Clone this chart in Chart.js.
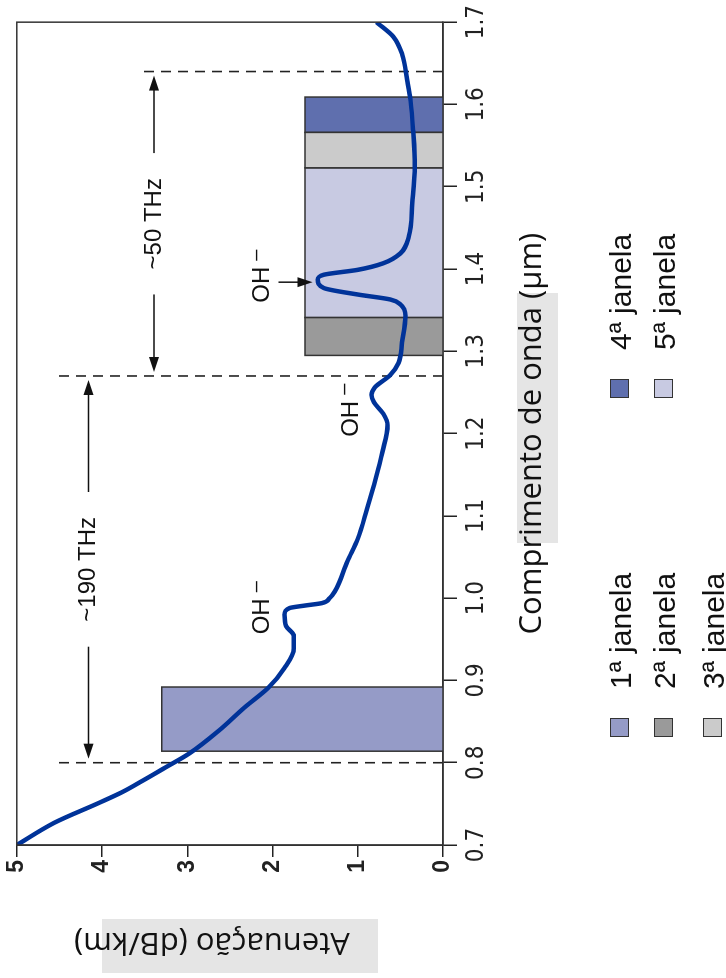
<!DOCTYPE html>
<html>
<head>
<meta charset="utf-8">
<script src="https://cdn.jsdelivr.net/npm/chart.js@4.4.0/dist/chart.umd.min.js"></script>
<style>
  html, body { margin: 0; padding: 0; background: #fff; overflow: hidden; }
  /* o gráfico é desenhado "deitado" e depois rodado 90° como na figura */
  #page { position: absolute; left: 0; top: 0; width: 978px; height: 726px;
          transform-origin: 0 0; transform: translate(0, 978px) rotate(-90deg); }
  #chart { position: absolute; left: 0; top: 0; }
  .leg-txt { position: absolute; font: 30px 'Liberation Sans', Arial, sans-serif; color: #111;
             white-space: nowrap; line-height: 30px; }
  .leg-sw { position: absolute; width: 17px; height: 17px; border: 1.5px solid #333; }
</style>
</head>
<body>
<div id="page">
  <canvas id="chart" width="978" height="726"></canvas>
  <div id="legend"></div>
</div>
<script>
// curva de atenuação da fibra
const wavelength = [0.700, 0.727, 0.751, 0.764, 0.779, 0.794, 0.811, 0.839, 0.867, 0.891,
  0.915, 0.939, 0.954, 0.966, 0.980, 0.988, 0.991, 0.994, 1.000, 1.008, 1.045, 1.072,
  1.109, 1.145, 1.178, 1.210, 1.224, 1.238, 1.247, 1.256, 1.271, 1.286, 1.311, 1.343,
  1.357, 1.363, 1.369, 1.377, 1.387, 1.393, 1.399, 1.407, 1.419, 1.440, 1.480, 1.525,
  1.568, 1.604, 1.629, 1.661, 1.682, 1.700];
const attenuation = [5.00, 4.56, 4.04, 3.77, 3.51, 3.26, 2.98, 2.63, 2.33, 2.05,
  1.86, 1.75, 1.75, 1.84, 1.86, 1.80, 1.62, 1.42, 1.33, 1.27, 1.12, 1.00,
  0.89, 0.79, 0.71, 0.65, 0.70, 0.81, 0.84, 0.80, 0.62, 0.52, 0.48, 0.44,
  0.50, 0.62, 1.00, 1.40, 1.47, 1.40, 1.00, 0.70, 0.50, 0.40, 0.36, 0.33,
  0.35, 0.38, 0.42, 0.48, 0.58, 0.78];

// janelas de transmissão
const windowNames = ['1ª janela', '2ª janela', '3ª janela', '4ª janela', '5ª janela'];
const windowStart = [0.814, 1.295, 1.523, 1.566, 1.341];
const windowEnd = [0.892, 1.341, 1.566, 1.609, 1.523];
const windowHeight = [3.30, 1.62, 1.62, 1.62, 1.62];
const windowColors = ['#959bc7', '#9a9a9a', '#cbcbcb', '#5f6fae', '#c8cae2'];

// linhas tracejadas e setas de largura de banda
const markerWavelengths = [0.80, 1.27, 1.64];
const markerTops = [4.55, 4.55, 3.57];
const spanLabels = ['~190 THz', '~50 THz'];
const spanLevels = [4.16, 3.39];

// picos OH-
const ohWavelength = [0.956, 1.196, 1.359];
const ohLevel = [2.04, 1.00, 2.04];

const xTicks = [0.7, 0.8, 0.9, 1.0, 1.1, 1.2, 1.3, 1.4, 1.5, 1.6, 1.7];
const yTicks = [0, 1, 2, 3, 4, 5];

const sans = "'Liberation Sans', Arial, sans-serif";
const titleFont = "31px 'Open Sans', 'Noto Sans', sans-serif";

function arrowHead(ctx, x, y, dx, dy) {
  // ponta em (x,y), apontando na direção (dx,dy)
  const L = 15, W = 5;
  ctx.beginPath();
  ctx.moveTo(x, y);
  ctx.lineTo(x - dx * L - dy * W, y - dy * L + dx * W);
  ctx.lineTo(x - dx * L + dy * W, y - dy * L - dx * W);
  ctx.closePath();
  ctx.fill();
}

const annotations = {
  id: 'annotations',
  beforeDraw(chart) {
    const c = chart.ctx;
    c.save();
    c.fillStyle = '#e5e5e5';
    c.fillRect(5, 102, 54, 276);     // fundo do título do eixo y
    c.fillRect(435, 517, 250, 41);   // fundo do título do eixo x
    c.restore();
  },
  afterDraw(chart) {
    const c = chart.ctx, a = chart.chartArea;
    const xs = chart.scales.x, ys = chart.scales.y;
    c.save();
    // moldura
    c.strokeStyle = '#333';
    c.lineWidth = 1.5;
    c.strokeRect(a.left, a.top, a.right - a.left, a.bottom - a.top);

    // títulos dos eixos
    c.fillStyle = '#111';
    c.font = titleFont;
    c.textAlign = 'center';
    c.textBaseline = 'middle';
    c.fillText('Comprimento de onda (μm)', (a.left + a.right) / 2, 532);
    c.save();
    c.translate(36, 212);
    c.rotate(-Math.PI / 2);
    c.fillText('Atenuação (dB/km)', 0, 0);
    c.restore();

    // setas ~190 THz e ~50 THz
    c.strokeStyle = '#111';
    c.fillStyle = '#111';
    c.lineWidth = 1.5;
    c.font = '24px ' + sans;
    spanLabels.forEach((lab, i) => {
      const x0 = xs.getPixelForValue(markerWavelengths[i]) + 4;
      const x1 = xs.getPixelForValue(markerWavelengths[i + 1]) - 4;
      const y = ys.getPixelForValue(spanLevels[i]);
      const mid = (x0 + x1) / 2;
      const half = c.measureText(lab).width / 2 + 25;
      c.beginPath();
      c.moveTo(x0 + 5, y); c.lineTo(mid - half, y);
      c.moveTo(mid + half, y); c.lineTo(x1 - 5, y);
      c.stroke();
      arrowHead(c, x0, y, -1, 0);
      arrowHead(c, x1, y, 1, 0);
      c.fillText(lab, mid, y);
    });

    // rótulos OH-
    c.textAlign = 'left';
    ohWavelength.forEach((w, i) => {
      const x = xs.getPixelForValue(w), y = ys.getPixelForValue(ohLevel[i]);
      c.font = '24px ' + sans;
      c.textBaseline = 'alphabetic';
      c.fillText('OH', x, y);
      const wd = c.measureText('OH').width;
      c.font = '20px ' + sans;
      c.textBaseline = 'middle';
      c.fillText('–', x + wd + 6, y - 13);
    });
    // seta para o pico de 1,38 µm
    const ax = xs.getPixelForValue(1.384);
    const ay0 = ys.getPixelForValue(1.93), ay1 = ys.getPixelForValue(1.53);
    c.beginPath();
    c.moveTo(ax, ay0); c.lineTo(ax, ay1 - 6);
    c.stroke();
    arrowHead(c, ax, ay1, 0, 1);
    c.restore();
  }
};

const datasets = [{
  label: 'Atenuação',
  data: wavelength.map((w, i) => ({ x: w, y: attenuation[i] })),
  borderColor: '#003399',
  borderWidth: 4.5,
  pointRadius: 0,
  cubicInterpolationMode: 'monotone',
  order: 0
}];
markerWavelengths.forEach((w, i) => datasets.push({
  data: [{ x: w, y: 0 }, { x: w, y: markerTops[i] }],
  borderColor: '#222',
  borderWidth: 1.6,
  borderDash: [10, 7],
  pointRadius: 0,
  order: 1
}));
windowNames.forEach((n, i) => datasets.push({
  label: n,
  data: [{ x: windowStart[i], y: 0 }, { x: windowStart[i], y: windowHeight[i] },
         { x: windowEnd[i], y: windowHeight[i] }, { x: windowEnd[i], y: 0 }],
  borderColor: '#333',
  borderWidth: 1.5,
  backgroundColor: windowColors[i],
  fill: 'origin',
  pointRadius: 0,
  tension: 0,
  order: 2
}));

new Chart(document.getElementById('chart').getContext('2d'), {
  type: 'line',
  data: { datasets },
  options: {
    responsive: false,
    animation: false,
    events: [],
    layout: { padding: { left: 0, right: 18, top: 14, bottom: 0 } },
    plugins: { legend: { display: false }, tooltip: { enabled: false } },
    scales: {
      x: {
        type: 'linear', min: 0.7, max: 1.7,
        afterBuildTicks: s => { s.ticks = xTicks.map(v => ({ value: v })); },
        afterFit: s => { s.height = 283; },
        ticks: {
          callback: v => v.toFixed(1), autoSkip: false, maxRotation: 0, padding: 5,
          color: '#222', font: { family: "'Liberation Sans Narrow', 'DejaVu Sans Condensed', sans-serif", size: 24 }
        },
        grid: { drawOnChartArea: false, tickLength: 14, color: '#222', lineWidth: 1.5 },
        border: { color: '#333', width: 1.5 }
      },
      y: {
        min: 0, max: 5,
        afterBuildTicks: s => { s.ticks = yTicks.map(v => ({ value: v })); },
        afterFit: s => { s.width = 133; },
        ticks: { callback: v => String(v), padding: 3, color: '#222', font: { family: sans, size: 23, weight: 'bold' } },
        grid: { drawOnChartArea: false, tickLength: 12, color: '#222', lineWidth: 1.5 },
        border: { color: '#333', width: 1.5 }
      }
    }
  },
  plugins: [annotations]
});

// legenda em duas colunas
const legCol = [241, 580];
const legRowTop = [610, 654, 703];
const legend = document.getElementById('legend');
windowNames.forEach((n, i) => {
  const col = i < 3 ? 0 : 1, row = i < 3 ? i : i - 3;
  const sw = document.createElement('div');
  sw.className = 'leg-sw';
  sw.style.left = legCol[col] + 'px';
  sw.style.top = legRowTop[row] + 'px';
  sw.style.background = windowColors[i];
  const tx = document.createElement('div');
  tx.className = 'leg-txt';
  tx.style.left = (legCol[col] + 48) + 'px';
  tx.style.top = (legRowTop[row] - 4) + 'px';
  tx.textContent = n;
  legend.appendChild(sw);
  legend.appendChild(tx);
});
</script>
</body>
</html>
